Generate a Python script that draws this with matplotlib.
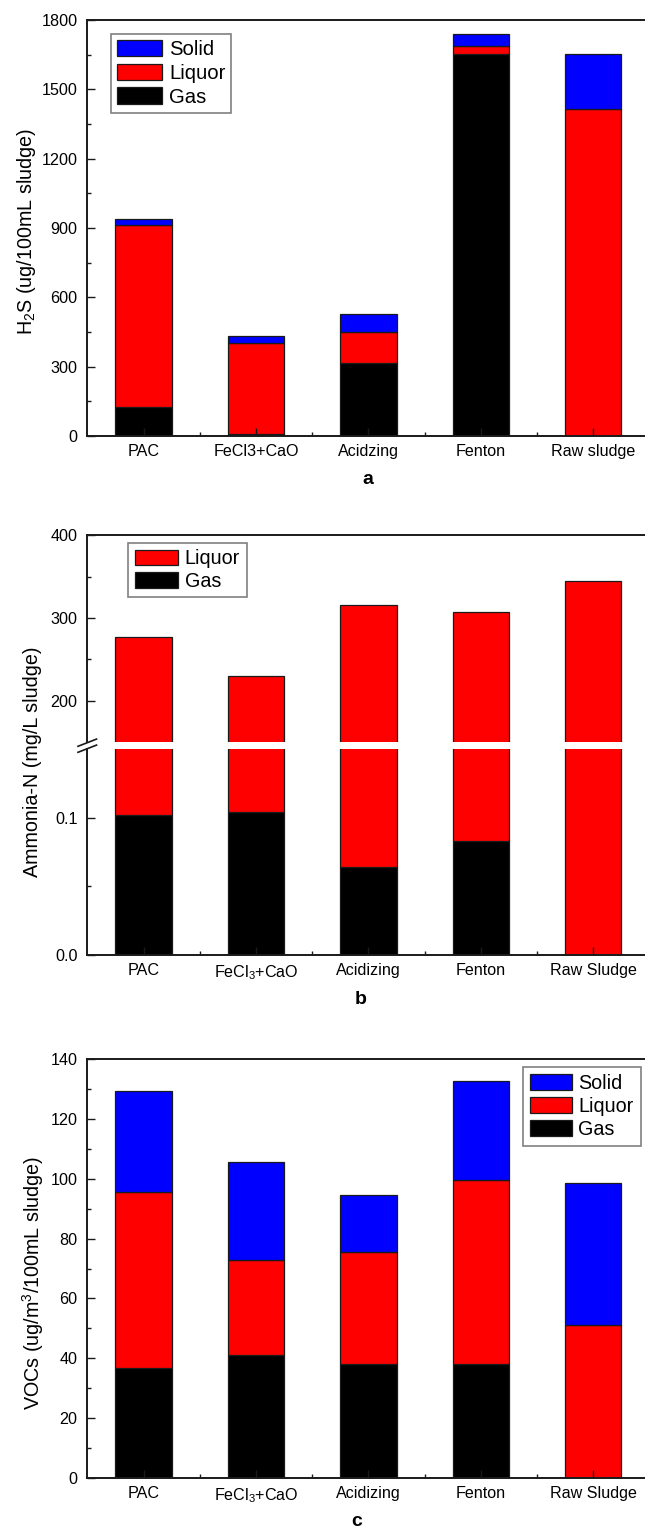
import matplotlib
matplotlib.use("Agg")
import matplotlib.pyplot as plt
from matplotlib.lines import Line2D
import numpy as np

plt.rcParams['font.family'] = ['Liberation Sans', 'DejaVu Sans']
plt.rcParams['mathtext.fontset'] = 'custom'
plt.rcParams['mathtext.rm'] = 'Liberation Sans'
plt.rcParams['mathtext.it'] = 'Liberation Sans:italic'
plt.rcParams['mathtext.bf'] = 'Liberation Sans:bold'

# ---- data -------------------------------------------------------------
labels_a = ["PAC", "FeCl3+CaO", "Acidzing", "Fenton", "Raw sludge"]
labels_bc = ["PAC", r"FeCl$\mathregular{_3}$+CaO", "Acidizing", "Fenton", "Raw Sludge"]

# H2S (ug/100mL sludge)
h2s_gas = [127, 7, 314, 1653, 0]
h2s_liquor = [787, 394, 135, 33, 1413]
h2s_solid = [25, 30, 79, 55, 241]

# Ammonia-N (mg/L sludge)
nh3_gas = [0.102, 0.104, 0.064, 0.083, 0.0]
nh3_liquor = [276.5, 229.8, 315.6, 306.8, 344.7]

# VOCs (ug/m3/100mL sludge)
voc_gas = [36.6, 41.1, 38.2, 38.2, 0]
voc_liquor = [59.1, 31.8, 37.2, 61.4, 51.1]
voc_solid = [33.6, 32.8, 19.1, 33.0, 47.6]

# ---- style --------------------------------------------------------------
W, H = 645, 1528
DPI = 100
C_SOLID, C_LIQ, C_GAS = "#0000ff", "#ff0000", "#000000"
EDGE = "#1a1a1a"
BAR_W = 0.5
TICK_FS = 11.6
LABEL_FS = 14.2

fig = plt.figure(figsize=(W / DPI, H / DPI), dpi=DPI)


def px_axes(left, top, right, bottom):
    return fig.add_axes([left / W, 1 - bottom / H, (right - left) / W, (bottom - top) / H])


def style_axes(ax, show_bottom=True, show_top=True):
    for s in ax.spines.values():
        s.set_linewidth(1.4)
        s.set_color("#1a1a1a")
    ax.spines['top'].set_visible(show_top)
    ax.spines['bottom'].set_visible(show_bottom)
    ax.tick_params(which='both', direction='in', top=False, right=False, width=1.0,
                   color="#1a1a1a", labelsize=TICK_FS)
    ax.tick_params(which='major', length=5.8)
    ax.tick_params(which='minor', length=3.2)
    ax.tick_params(axis='y', pad=7)
    ax.tick_params(axis='x', pad=6)
    ax.set_xlim(0.5, 5.5)


def legend_style(ax, handles, labels, loc, anchor, fs, hl, hh, bp, ls):
    leg = ax.legend(handles, labels, loc=loc, bbox_to_anchor=anchor, borderaxespad=0,
                    fontsize=fs, frameon=True, fancybox=False, handlelength=hl,
                    handleheight=hh, handletextpad=0.32, labelspacing=ls,
                    borderpad=bp)
    fr = leg.get_frame()
    fr.set_edgecolor("#808080")
    fr.set_linewidth(1.2)
    fr.set_alpha(1)
    return leg


x = np.arange(1, 6)
kw = dict(width=BAR_W, edgecolor=EDGE, linewidth=0.9)

# ---- panel a ------------------------------------------------------------
ax_a = px_axes(87.3, 20, 649.5, 436)
g = np.array(h2s_gas); l = np.array(h2s_liquor); s = np.array(h2s_solid)
b_gas = ax_a.bar(x, g, color=C_GAS, **kw)
b_liq = ax_a.bar(x, l, bottom=g, color=C_LIQ, **kw)
b_sol = ax_a.bar(x, s, bottom=g + l, color=C_SOLID, **kw)
style_axes(ax_a)
ax_a.set_ylim(0, 1800)
ax_a.set_yticks(np.arange(0, 1801, 300))
ax_a.set_yticks(np.arange(150, 1800, 300), minor=True)
ax_a.set_xticks(x)
ax_a.set_xticklabels(labels_a)
ax_a.set_xticks(x[:-1] + 0.5, minor=True)
legend_style(ax_a, [b_sol, b_liq, b_gas], ["Solid", "Liquor", "Gas"],
             'upper left', (0.0416, 0.9663), 14.6, 2.25, 0.86, 0.3, 0.22)
fig.text(27 / W, 1 - 232 / H, r"H$\mathregular{_2}$S (ug/100mL sludge)", rotation=90,
         ha='center', va='center', fontsize=LABEL_FS)
fig.text(368 / W, 1 - 480 / H, "a", ha='center', va='center', fontsize=14, fontweight='bold')

# ---- panel b (broken y axis) -------------------------------------------
ax_bu = px_axes(87.3, 535.3, 649.5, 742)
ax_bl = px_axes(87.3, 749, 649.5, 955)
ng = np.array(nh3_gas); nl = np.array(nh3_liquor)
for ax in (ax_bu, ax_bl):
    hb_gas = ax.bar(x, ng, color=C_GAS, **kw)
    hb_liq = ax.bar(x, nl, bottom=ng, color=C_LIQ, **kw)
style_axes(ax_bu, show_bottom=False)
style_axes(ax_bl, show_top=False)
ax_bu.set_ylim(150, 400)
ax_bu.set_yticks([200, 300, 400])
ax_bu.set_yticks([250, 350], minor=True)
ax_bu.tick_params(axis='x', which='both', bottom=False, labelbottom=False)
ax_bl.set_ylim(0, 0.15)
ax_bl.set_yticks([0.0, 0.1])
ax_bl.set_yticklabels(["0.0", "0.1"])
ax_bl.set_yticks([0.05], minor=True)
ax_bl.set_xticks(x)
ax_bl.set_xticklabels(labels_bc)
ax_bl.set_xticks(x[:-1] + 0.5, minor=True)
legend_style(ax_bu, [hb_liq, hb_gas], ["Liquor", "Gas"],
             'upper left', (0.0729, 0.964), 14.2, 2.2, 0.84, 0.34, 0.16)

# break marks on the left spine
gap_c = (742 + 749) / 2
for dy in (-2.8, 3.2):
    x0, x1 = 78.0, 96.5
    y0, y1 = gap_c + dy + 3.6, gap_c + dy - 3.6
    fig.add_artist(Line2D([x0 / W, x1 / W], [1 - y0 / H, 1 - y1 / H],
                          transform=fig.transFigure, color="#1a1a1a", lw=1.2))

fig.text(33 / W, 1 - 762 / H, "Ammonia-N (mg/L sludge)", rotation=90,
         ha='center', va='center', fontsize=LABEL_FS)
fig.text(361 / W, 1 - 1000 / H, "b", ha='center', va='center', fontsize=14, fontweight='bold')

# ---- panel c ------------------------------------------------------------
ax_c = px_axes(87.3, 1059, 649.5, 1478)
vg = np.array(voc_gas); vl = np.array(voc_liquor); vs = np.array(voc_solid)
c_gas = ax_c.bar(x, vg, color=C_GAS, **kw)
c_liq = ax_c.bar(x, vl, bottom=vg, color=C_LIQ, **kw)
c_sol = ax_c.bar(x, vs, bottom=vg + vl, color=C_SOLID, **kw)
style_axes(ax_c)
ax_c.set_ylim(0, 140)
ax_c.set_yticks(np.arange(0, 141, 20))
ax_c.set_yticks(np.arange(10, 140, 20), minor=True)
ax_c.set_xticks(x)
ax_c.set_xticklabels(labels_bc)
ax_c.set_xticks(x[:-1] + 0.5, minor=True)
legend_style(ax_c, [c_sol, c_liq, c_gas], ["Solid", "Liquor", "Gas"],
             'upper right', (0.9843, 0.9816), 14.2, 2.15, 0.84, 0.36, 0.2)
fig.text(33 / W, 1 - 1283 / H, r"VOCs (ug/m$\mathregular{^3}$/100mL sludge)", rotation=90,
         ha='center', va='center', fontsize=LABEL_FS)
fig.text(357 / W, 1 - 1521.7 / H, "c", ha='center', va='center', fontsize=14, fontweight='bold')

fig.savefig("out.png", dpi=DPI, facecolor="white")
